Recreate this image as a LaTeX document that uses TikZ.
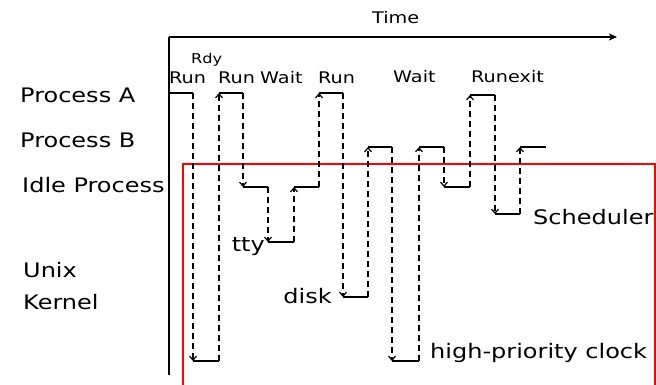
\documentclass[tikz,border=0pt]{standalone}
\usepackage{fontspec}
\setmainfont{DejaVu Sans}[FakeStretch=1.2]
\usetikzlibrary{arrows.meta}
\begin{document}
\begin{tikzpicture}[x=1pt,y=-1pt,
  lbl/.style={inner sep=0pt,anchor=west,font=\fontsize{20}{22}\selectfont},
  toplbl/.style={inner sep=0pt,anchor=west,font=\fontsize{16}{18}\selectfont},
  smalllbl/.style={inner sep=0pt,anchor=west,font=\fontsize{13.5}{15}\selectfont},
  seg/.style={line width=1.7pt},
  sw/.style={dashed,line width=1.3pt,dash pattern=on 6pt off 4pt,-{Straight Barb[length=4pt,width=7pt,line width=1.2pt]}},
  axis/.style={line width=1.5pt}]
\useasboundingbox (0,0) rectangle (656,385);
% axes
\coordinate (o) at (169,37);
\coordinate (ob) at (169,375);
\coordinate (te) at (617,37);
\draw[axis] (ob) -- (o);
\draw[axis,-{Stealth[length=8pt,width=7pt,inset=2pt]}] (o) -- (te);
% red box
\coordinate (r1) at (183,392);
\coordinate (r2) at (183,164);
\coordinate (r3) at (655,164);
\coordinate (r4) at (655,392);
\draw[red,line width=2pt] (r1) -- (r2) -- (r3) -- (r4);
% labels
\node[toplbl] (time) at (372,18) {Time};
\node[smalllbl] (rdy) at (191,60) {Rdy};
\node[toplbl] (run1) at (169,78) {Run};
\node[toplbl] (run2) at (218,78) {Run};
\node[toplbl] (wait1) at (260,78) {Wait};
\node[toplbl] (run3) at (318,78) {Run};
\node[toplbl] (wait2) at (393,77) {Wait};
\node[toplbl] (run4) at (471,77) {Run};
\node[toplbl] (exit) at (508,77) {exit};
\node[lbl] (pa) at (20,95) {Process A};
\node[lbl] (pb) at (20,140) {Process B};
\node[lbl] (ip) at (22,185) {Idle Process};
\node[lbl] (unix) at (23,270) {Unix};
\node[lbl] (kern) at (23,302) {Kernel};
\node[lbl,anchor=east] (tty) at (265,247) {tty};
\node[lbl,anchor=east] (disk) at (332,296) {disk};
\node[lbl] (sched) at (533,217) {Scheduler};
\node[lbl] (clock) at (430,353) {high-priority clock};
% trace coordinates
\coordinate (a0) at (169,93);
\coordinate (a1) at (193,93);
\coordinate (k1) at (193,361);
\coordinate (k2) at (219,361);
\coordinate (a2) at (219,93);
\coordinate (a3) at (243,93);
\coordinate (i1) at (243,187);
\coordinate (i2) at (268,187);
\coordinate (t1) at (268,242);
\coordinate (t2) at (294,242);
\coordinate (i3) at (294,187);
\coordinate (i4) at (319,187);
\coordinate (a4) at (319,93);
\coordinate (a5) at (343,93);
\coordinate (d1) at (343,297);
\coordinate (d2) at (368,297);
\coordinate (b1) at (368,147);
\coordinate (b2) at (392,147);
\coordinate (c1) at (392,361);
\coordinate (c2) at (419,361);
\coordinate (b3) at (419,147);
\coordinate (b4) at (444,147);
\coordinate (i5) at (444,187);
\coordinate (i6) at (470,187);
\coordinate (a6) at (470,95);
\coordinate (a7) at (495,95);
\coordinate (s1) at (495,214);
\coordinate (s2) at (520,214);
\coordinate (b5) at (520,147);
\coordinate (b6) at (546,147);
% solid segments
\draw[seg] (a0) -- (a1);
\draw[seg] (k1) -- (k2);
\draw[seg] (a2) -- (a3);
\draw[seg] (i1) -- (i2);
\draw[seg] (t1) -- (t2);
\draw[seg] (i3) -- (i4);
\draw[seg] (a4) -- (a5);
\draw[seg] (d1) -- (d2);
\draw[seg] (b1) -- (b2);
\draw[seg] (c1) -- (c2);
\draw[seg] (b3) -- (b4);
\draw[seg] (i5) -- (i6);
\draw[seg] (a6) -- (a7);
\draw[seg] (s1) -- (s2);
\draw[seg] (b5) -- (b6);
% switches
\draw[sw] (a1) -- (k1);
\draw[sw] (k2) -- (a2);
\draw[sw] (a3) -- (i1);
\draw[sw] (i2) -- (t1);
\draw[sw] (t2) -- (i3);
\draw[sw] (i4) -- (a4);
\draw[sw] (a5) -- (d1);
\draw[sw] (d2) -- (b1);
\draw[sw] (b2) -- (c1);
\draw[sw] (c2) -- (b3);
\draw[sw] (b4) -- (i5);
\draw[sw] (i6) -- (a6);
\draw[sw] (a7) -- (s1);
\draw[sw] (s2) -- (b5);
\end{tikzpicture}
\end{document}
